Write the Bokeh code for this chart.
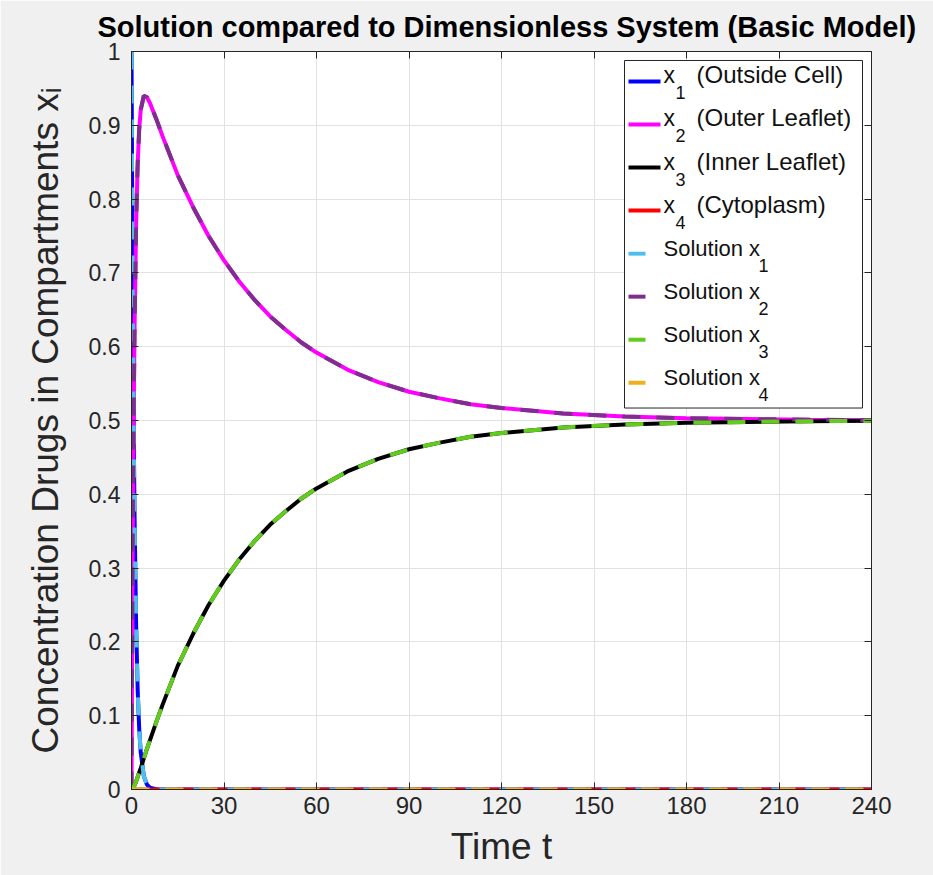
import numpy as np
from bokeh.plotting import figure
from bokeh.models import Range1d, FixedTicker, LinearAxis, Label, BoxAnnotation
from bokeh.embed import file_html
from bokeh.resources import INLINE

# ---- data -------------------------------------------------------------
t = [0, 0.25, 0.5, 0.75, 1, 1.5, 2, 2.5, 3, 4, 5, 6, 8, 10, 15, 20, 25, 30,
     35, 40, 45, 50, 55, 60, 70, 80, 90, 100, 110, 120, 140, 160, 180, 200,
     220, 240]

# numerical solution of the dimensionless system
x1 = [1.0, 0.779, 0.607, 0.472, 0.368, 0.223, 0.135, 0.082, 0.05, 0.018,
      0.0067, 0.0025, 0.0003, 0, 0, 0, 0, 0, 0, 0, 0, 0, 0, 0, 0, 0, 0, 0,
      0, 0, 0, 0, 0, 0, 0, 0]
x2 = [0.0, 0.22, 0.391, 0.524, 0.626, 0.766, 0.848, 0.895, 0.921, 0.94,
      0.938, 0.93, 0.909, 0.886, 0.8325, 0.789, 0.75, 0.717, 0.688, 0.663,
      0.641, 0.623, 0.606, 0.592, 0.569, 0.552, 0.539, 0.53, 0.522, 0.517,
      0.5094, 0.5053, 0.503, 0.502, 0.501, 0.5005]
x3 = [0.0, 0.0005, 0.002, 0.004, 0.006, 0.011, 0.017, 0.023, 0.029, 0.042,
      0.055, 0.067, 0.091, 0.114, 0.1675, 0.211, 0.25, 0.283, 0.312, 0.337,
      0.359, 0.377, 0.394, 0.408, 0.431, 0.448, 0.461, 0.47, 0.478, 0.483,
      0.4906, 0.4947, 0.497, 0.498, 0.499, 0.4995]
x4 = [0.0] * len(t)

# analytical solution, evaluated at the same times
sol_x1 = list(x1)
sol_x2 = list(x2)
sol_x3 = list(x3)
sol_x4 = list(x4)

x_ticks = [0, 30, 60, 90, 120, 150, 180, 210, 240]
y_ticks = [0, 0.1, 0.2, 0.3, 0.4, 0.5, 0.6, 0.7, 0.8, 0.9, 1]
y_tick_labels = ["0", "0.1", "0.2", "0.3", "0.4", "0.5", "0.6", "0.7",
                 "0.8", "0.9", "1"]

series_names = ["(Outside Cell)", "(Outer Leaflet)", "(Inner Leaflet)",
                "(Cytoplasm)"]
line_colors = ["#0000ff", "#ff00ff", "#000000", "#ff0000"]
sol_colors = ["#4dbeee", "#7e2f8e", "#62cc1e", "#edb120"]

# ---- layout helpers -----------------------------------------------------
W, H = 933, 875
FL, FR, FT, FB = 131, 871, 50, 789          # frame edges in pixels
X0, X1, Y0, Y1 = 0, 240, 0, 1
FONT = "Liberation Sans"
INK = "#262626"


def dx(px):
    return X0 + (px - FL) * (X1 - X0) / (FR - FL)


def dy(py):
    return Y0 + (FB - py) * (Y1 - Y0) / (FB - FT)


p = figure(width=W, height=H, output_backend="svg", toolbar_location=None,
           x_range=Range1d(X0, X1), y_range=Range1d(Y0, Y1),
           min_border_left=FL, min_border_right=W - FR,
           min_border_top=FT, min_border_bottom=H - FB,
           background_fill_color="white", border_fill_color="#f0f0f0",
           title="Solution compared to Dimensionless System (Basic Model)")
p.outline_line_color = INK
p.outline_line_width = 1
p.outline_line_alpha = 1

p.title.text_font = FONT
p.title.text_font_size = "29px"
p.title.text_font_style = "bold"
p.title.text_color = "#000000"
p.title.align = "left"
p.title.offset = -34
p.title.standoff = 17

for ax in (p.xaxis[0], p.yaxis[0]):
    ax.major_tick_in = 7
    ax.major_tick_out = 0
    ax.minor_tick_line_color = None
    ax.major_tick_line_color = INK
    ax.axis_line_color = INK
    ax.major_label_text_font = FONT
    ax.major_label_text_color = INK
    ax.axis_label_text_font = FONT
    ax.axis_label_text_font_style = "normal"
    ax.axis_label_text_color = INK

p.xaxis.ticker = FixedTicker(ticks=x_ticks)
p.xaxis.major_label_text_font_size = "24px"
p.xaxis.major_label_standoff = 7
p.xaxis.axis_label = "Time t"
p.xaxis.axis_label_text_font_size = "37px"
p.xaxis.axis_label_standoff = 9

p.yaxis.ticker = FixedTicker(ticks=y_ticks)
p.yaxis.major_label_overrides = dict(zip(y_ticks, y_tick_labels))
p.yaxis.major_label_text_font_size = "23px"
p.yaxis.major_label_standoff = 11
p.yaxis.axis_label = "Concentration Drugs in Compartments x\u1d62"
p.yaxis.axis_label_text_font_size = "37px"
p.yaxis.axis_label_standoff = 20

# mirrored tick marks on the top and right edges of the box
for side, ticks in (("above", x_ticks), ("right", y_ticks)):
    p.add_layout(LinearAxis(ticker=FixedTicker(ticks=ticks), major_tick_in=7,
                            major_tick_out=0, minor_tick_line_color=None,
                            major_label_text_font_size="0px",
                            major_label_text_color=None, major_label_standoff=0,
                            axis_line_color=INK, major_tick_line_color=INK),
                 side)

p.xgrid.ticker = FixedTicker(ticks=x_ticks)
p.ygrid.ticker = FixedTicker(ticks=y_ticks)
p.grid.grid_line_color = "#e2e2e2"
p.grid.grid_line_width = 1

# ---- curves ---------------------------------------------------------------
for ys, c in zip([x1, x2, x3, x4], line_colors):
    p.line(t, ys, line_color=c, line_width=4)
for ys, c in zip([sol_x1, sol_x2, sol_x3, sol_x4], sol_colors):
    p.line(t, ys, line_color=c, line_width=4, line_dash="18 16")

# ---- legend ---------------------------------------------------------------
p.add_layout(BoxAnnotation(left=dx(624), right=dx(862), top=dy(59), bottom=dy(407),
                           fill_color="white", fill_alpha=1, line_color=INK,
                           line_width=1, line_alpha=1))
row0, row_gap = 80, 43.1
TXT = "#111111"
for i in range(8):
    yc = row0 + i * row_gap
    if i < 4:
        color, x_end = line_colors[i], 660
    else:
        color, x_end = sol_colors[i - 4], 645
    p.add_layout(BoxAnnotation(left=dx(628), right=dx(x_end), top=dy(yc - 2),
                               bottom=dy(yc + 2), fill_color=color, fill_alpha=1,
                               line_color=None))
    num = str(i % 4 + 1)
    if i < 4:
        p.add_layout(Label(x=dx(663), y=dy(yc + 7), text="x", text_font=FONT,
                           text_font_size="23px", text_color=TXT))
        p.add_layout(Label(x=dx(675), y=dy(yc + 18), text=num, text_font=FONT,
                           text_font_size="18px", text_color=TXT))
        p.add_layout(Label(x=dx(696), y=dy(yc + 7), text=series_names[i],
                           text_font=FONT, text_font_size="24px", text_color=TXT))
    else:
        p.add_layout(Label(x=dx(663), y=dy(yc + 7), text="Solution x",
                           text_font=FONT, text_font_size="22px", text_color=TXT))
        p.add_layout(Label(x=dx(758), y=dy(yc + 18), text=num, text_font=FONT,
                           text_font_size="18px", text_color=TXT))

open("out.html", "w").write(file_html(p, INLINE))
